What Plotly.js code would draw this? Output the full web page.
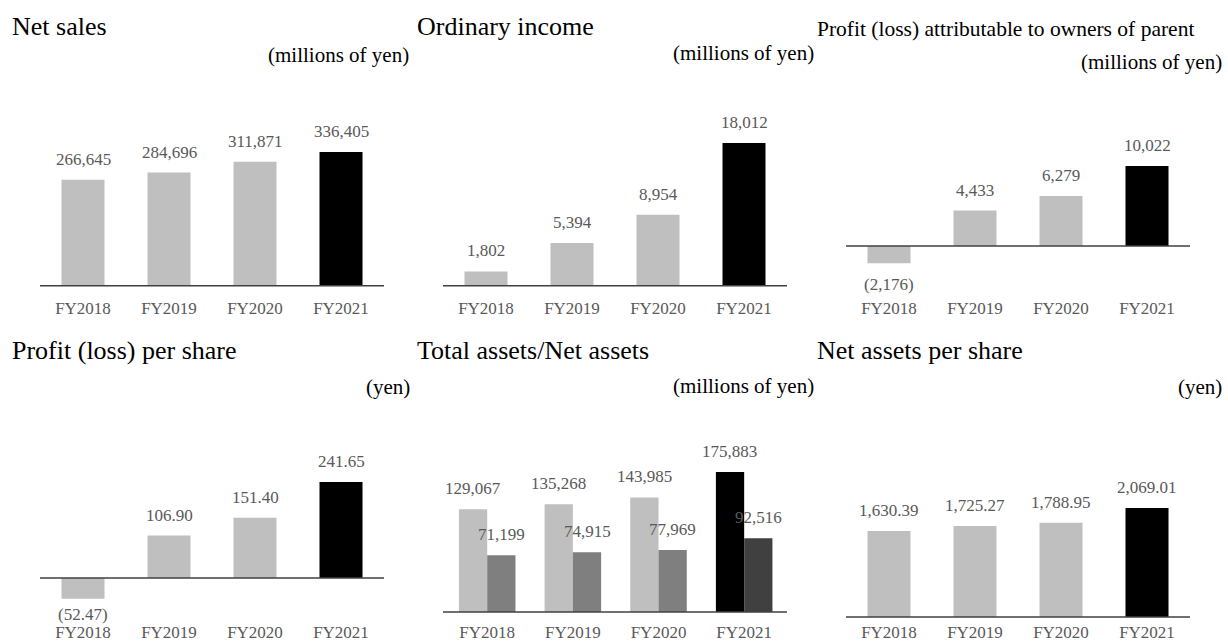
<!DOCTYPE html>
<html><head><meta charset="utf-8">
<script src="https://cdn.plot.ly/plotly-3.0.1.min.js"></script>
<style>html,body{margin:0;padding:0;background:#fff}#chart{width:1228px;height:644px}</style>
</head><body><div id="chart"></div>
<script>
// ---- data ----
const years = ['FY2018', 'FY2019', 'FY2020', 'FY2021'];
const netSales = [266645, 284696, 311871, 336405];
const ordinaryIncome = [1802, 5394, 8954, 18012];
const profitOwners = [-2176, 4433, 6279, 10022];
const profitPerShare = [-52.47, 106.90, 151.40, 241.65];
const totalAssets = [129067, 135268, 143985, 175883];
const netAssets = [71199, 74915, 77969, 92516];
const netAssetsPerShare = [1630.39, 1725.27, 1788.95, 2069.01];

const panelTitles = ['Net sales', 'Ordinary income', 'Profit (loss) attributable to owners of parent',
  'Profit (loss) per share', 'Total assets/Net assets', 'Net assets per share'];
const panelUnits = ['(millions of yen)', '(millions of yen)', '(millions of yen)', '(yen)', '(millions of yen)', '(yen)'];

// ---- layout geometry (pixels) ----
const W = 1228, H = 644;
const FONT = 'Liberation Serif';
const geo = [
  {x0: 40,  x1: 384,  base: 285.7, refH: 133.7, bottom: 296, top: 90,  tx: 10,  ty: 26, ts: 26, ux: 411,  uy: 55, neg: -10},
  {x0: 443, x1: 787,  base: 285.7, refH: 142.7, bottom: 296, top: 90,  tx: 415, ty: 26, ts: 26, ux: 816,  uy: 53, neg: -10},
  {x0: 846, x1: 1190, base: 246,   refH: 80,    bottom: 296, top: 90,  tx: 815, ty: 29, ts: 21.5, ux: 1224, uy: 62, neg: -10},
  {x0: 40,  x1: 384,  base: 578,   refH: 96,    bottom: 620, top: 410, tx: 10,  ty: 351, ts: 26, ux: 412, uy: 387, neg: -4},
  {x0: 443, x1: 787,  base: 612,   refH: 140,   bottom: 620, top: 410, tx: 415, ty: 351, ts: 26, ux: 816, uy: 386, neg: -4},
  {x0: 846, x1: 1190, base: 617,   refH: 109,   bottom: 620, top: 410, tx: 815, ty: 351, ts: 26, ux: 1224, uy: 387, neg: -4}
];

const gray = '#bfbfbf', black = '#000000', netGray = '#7f7f7f', netDark = '#404040';
const singleColors = [gray, gray, gray, black];

function fmt(v, dec) {
  const s = Math.abs(v).toLocaleString('en-US', {minimumFractionDigits: dec, maximumFractionDigits: dec});
  return v < 0 ? '(' + s + ')' : s;
}

const panels = [
  {series: [{y: netSales, colors: singleColors}], dec: 0},
  {series: [{y: ordinaryIncome, colors: singleColors}], dec: 0},
  {series: [{y: profitOwners, colors: singleColors}], dec: 0},
  {series: [{y: profitPerShare, colors: singleColors}], dec: 2},
  {series: [{y: totalAssets, colors: [gray, gray, gray, black], offset: -0.33, width: 0.33, shift: -14.2},
            {y: netAssets, colors: [netGray, netGray, netGray, netDark], offset: 0, width: 0.33, shift: 14.2}], dec: 0},
  {series: [{y: netAssetsPerShare, colors: singleColors}], dec: 2}
];

const data = [];
const layout = {
  width: W, height: H, margin: {l: 0, r: 0, t: 0, b: 0},
  paper_bgcolor: '#ffffff', plot_bgcolor: 'rgba(0,0,0,0)',
  showlegend: false, barmode: 'group', bargap: 0.5,
  annotations: [], shapes: [],
  font: {family: FONT}
};

panels.forEach((p, i) => {
  const g = geo[i];
  const k = i === 0 ? '' : String(i + 1);
  const xr = 'x' + k, yr = 'y' + k;
  const ref = Math.max(...p.series.map(s => Math.max(...s.y)));
  const lo = -(g.bottom - g.base) * ref / g.refH;
  const hi = (g.base - g.top) * ref / g.refH;

  layout['xaxis' + k] = {
    domain: [g.x0 / W, g.x1 / W], anchor: yr, type: 'category',
    categoryorder: 'array', categoryarray: years,
    showline: false, showgrid: false, zeroline: false, ticks: '',
    tickfont: {family: FONT, size: 17, color: '#595959'}, fixedrange: true
  };
  layout['yaxis' + k] = {
    domain: [1 - g.bottom / H, 1 - g.top / H], anchor: xr,
    range: [lo, hi], visible: false, showgrid: false, zeroline: false, fixedrange: true
  };

  p.series.forEach(s => {
    const tr = {
      type: 'bar', x: years, y: s.y, xaxis: xr, yaxis: yr,
      marker: {color: s.colors, line: {width: 0}}, hoverinfo: 'skip'
    };
    if (s.width !== undefined) { tr.width = s.width; tr.offset = s.offset; }
    data.push(tr);
    s.y.forEach((v, j) => {
      layout.annotations.push({
        xref: xr, yref: yr, x: years[j], y: v, text: fmt(v, p.dec), showarrow: false,
        xanchor: 'center', yanchor: v >= 0 ? 'bottom' : 'top',
        yshift: v >= 0 ? 9 : g.neg, xshift: s.shift || 0,
        font: {family: FONT, size: 17, color: '#595959'}
      });
    });
  });

  // baseline at zero
  layout.shapes.push({
    type: 'line', xref: xr + ' domain', yref: yr, x0: 0, x1: 1, y0: 0, y1: 0,
    line: {color: '#404040', width: 1.5}
  });

  // panel title
  layout.annotations.push({
    xref: 'paper', yref: 'paper', x: g.tx / W, y: 1 - g.ty / H, xanchor: 'left', yanchor: 'middle',
    text: panelTitles[i], showarrow: false, font: {family: FONT, size: g.ts, color: '#000000'}
  });
  // unit
  layout.annotations.push({
    xref: 'paper', yref: 'paper', x: g.ux / W, y: 1 - g.uy / H, xanchor: 'right', yanchor: 'middle',
    text: panelUnits[i], showarrow: false, font: {family: FONT, size: 21, color: '#000000'}
  });
});

Plotly.newPlot('chart', data, layout, {staticPlot: true, displayModeBar: false});
</script></body></html>
